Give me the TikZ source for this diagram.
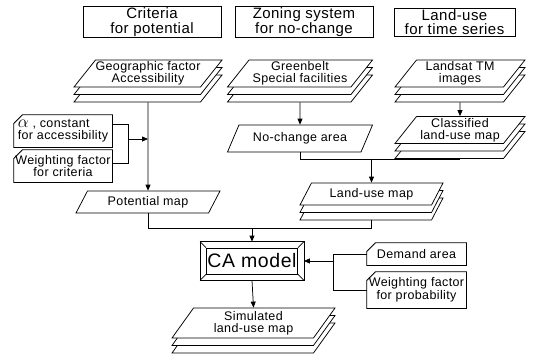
\documentclass[tikz,border=0pt]{standalone}
\usepackage{fontspec}
\setmainfont[LetterSpace=3]{Liberation Sans}
\usetikzlibrary{positioning, arrows.meta, calc, shapes.geometric, shadows}

\tikzset{
  head/.style={draw, rectangle, minimum height=28pt, align=center, inner sep=1pt,
    font=\fontsize{15}{14.5}\selectfont},
  layer/.style={draw, fill=white, trapezium, trapezium left angle=50, trapezium right angle=130,
    trapezium stretches body, align=center, inner xsep=0pt, inner ysep=1pt,
    font=\fontsize{12.5}{12}\selectfont},
  stack/.style={layer,
    general shadow={shadow yshift=-15pt, fill=white, draw},
    general shadow={shadow yshift=-7.5pt, fill=white, draw}},
  card/.style={rectangle, align=center, inner sep=1pt,
    font=\fontsize{12.5}{12.5}\selectfont},
  arr/.style={-{Triangle[length=6pt,width=5pt]}},
}

\begin{document}
\begin{tikzpicture}[x=1pt, y=-1pt, line width=0.75pt]
  \useasboundingbox (0,0) rectangle (533,354);
  % column headings
  \node[head, minimum width=138pt] (crit) at (152,22) {Criteria\\for potential};
  \node[head, minimum width=138pt] (zone) at (304,22) {Zoning system\\for no-change};
  \node[head, minimum width=121pt] (lu) at (454.5,22) {Land-use\\for time series};
  % data layers
  \node[stack, minimum width=144pt, minimum height=27pt] (geo) at (148,73.5) {Geographic factor\\Accessibility};
  \node[stack, minimum width=145pt, minimum height=27pt] (green) at (300,73.5) {Greenbelt\\Special facilities};
  \node[stack, minimum width=130pt, minimum height=27pt] (tm) at (460,73.5) {Landsat TM\\images};
  \node[layer, minimum width=145pt, minimum height=27pt] (nochg) at (300,138.5) {No-change area};
  \node[stack, minimum width=130pt, minimum height=27pt] (clsf) at (460,130) {Classified\\land-use map};
  \node[stack, minimum width=143pt, minimum height=22pt] (lumap) at (371.5,194) {Land-use map};
  \node[layer, minimum width=144pt, minimum height=22pt] (pot) at (148,202) {Potential map};
  \node[stack, minimum width=163pt, minimum height=30pt] (sim) at (253.5,323) {Simulated\\land-use map};
  % parameters
  \node[card, align=left, minimum width=98pt, minimum height=32pt] (alpha) at (63,131)
    {{\fontsize{18}{12}\selectfont$\alpha$} , constant\\for accessibility};
  \node[card, minimum width=98pt, minimum height=32pt] (wcrit) at (63,166) {Weighting factor\\for criteria};
  \node[card, minimum width=99pt, minimum height=22pt] (dem) at (416.5,254) {Demand area};
  \node[card, minimum width=99pt, minimum height=36pt] (wprob) at (416.5,290) {Weighting factor\\for probability};
  \foreach \n in {alpha, wcrit, dem, wprob}
    \draw ([yshift=-9pt]\n.north west) -- ([xshift=9pt]\n.north west) -- (\n.north east)
      -- (\n.south east) -- (\n.south west) -- cycle;
  % CA model with bevelled frame
  \node[draw, minimum width=84pt, minimum height=26pt, inner sep=1pt,
    font=\fontsize{19.5}{19}\selectfont] (ca) at (252,261) {CA model};
  \draw ([shift={(-6pt,6pt)}]ca.north west) rectangle ([shift={(6pt,-6pt)}]ca.south east);
  \foreach \c/\dx/\dy in {north west/-6/6, north east/6/6, south west/-6/-6, south east/6/-6}
    \draw (ca.\c) -- ++(\dx pt,\dy pt);
  % flows
  \draw[arr] ([yshift=-15pt]geo.south) -- (pot.north);
  \draw[arr] ([yshift=-15pt]green.south) -- (nochg.north);
  \draw[arr] ([yshift=-15pt]tm.south) -- (clsf.north);
  \coordinate (cbot) at ([yshift=-15pt]clsf.south);
  \draw (nochg.south) |- (cbot);
  \draw[arr] (cbot -| lumap.north) -- (lumap.north);
  \coordinate (lbrk) at ([xshift=16pt,yshift=-8pt]alpha.east);
  \draw ([yshift=7pt]alpha.east) -| (lbrk) |- ([yshift=3pt]wcrit.east);
  \draw[arr] (lbrk) -- (lbrk -| geo.south);
  \path (pot.south) ++(0,-15pt) coordinate (pj);
  \coordinate (join) at (pj -| ca.north);
  \draw (pot.south) |- (join);
  \draw ([yshift=-15pt]lumap.south) |- (join);
  \draw[arr] (join) -- ([yshift=6pt]ca.north);
  \draw[arr] ([yshift=-6pt]ca.south) -- (sim.north);
  \coordinate (rbrk) at ([xshift=-33pt]dem.west);
  \draw (dem.west) -- (rbrk) |- (wprob.west);
  \draw[arr] (rbrk |- ca.east) -- ([xshift=6pt]ca.east);
\end{tikzpicture}
\end{document}
